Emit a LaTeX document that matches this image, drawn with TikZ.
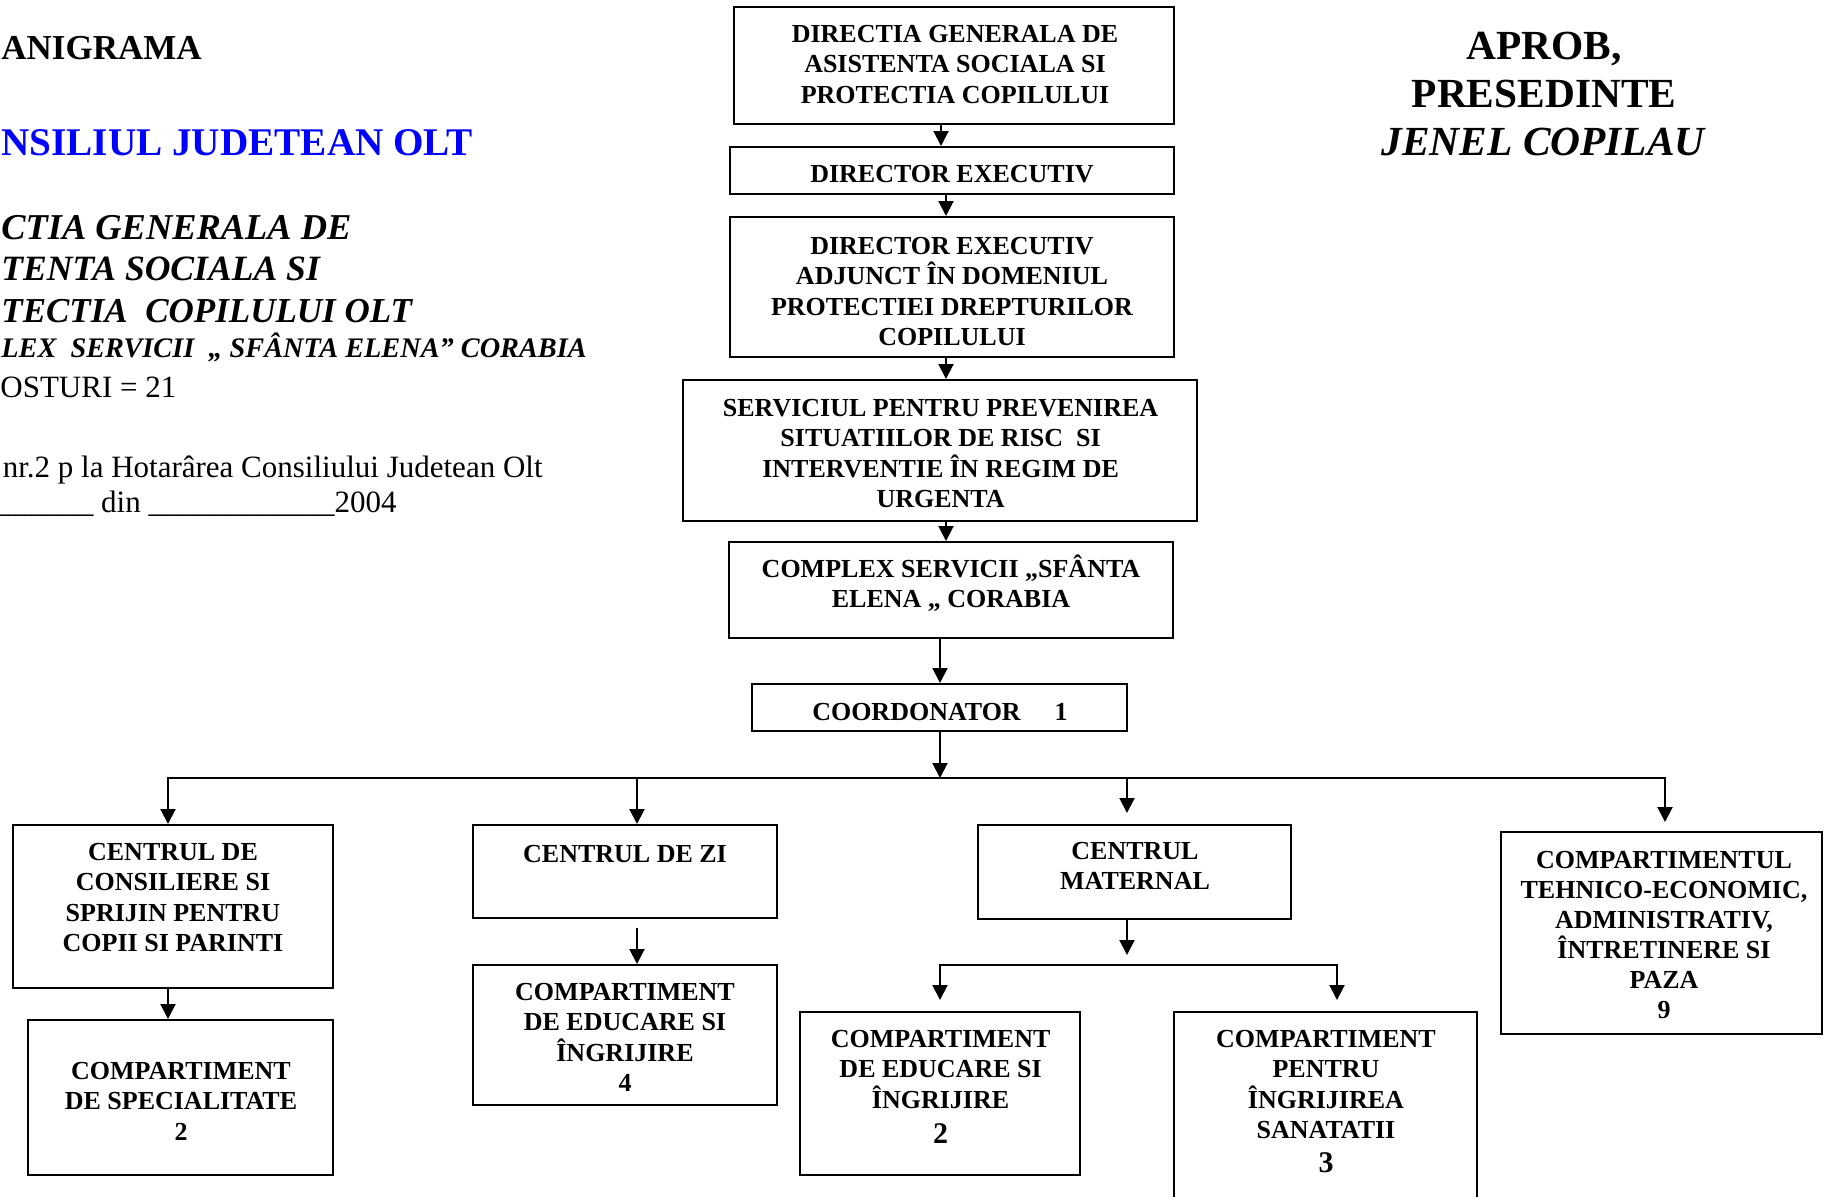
\documentclass[tikz,border=0pt]{standalone}
\usepackage{fontspec}
\setmainfont{Liberation Serif}
\usetikzlibrary{arrows.meta,fit,calc}
\newcommand\fl{\rule{0pt}{20pt}}
\begin{document}
\begin{tikzpicture}[x=0.5pt,y=-0.5pt,
  box/.style={draw,line width=1pt,inner sep=0pt},
  btxt/.style={font=\bfseries\fontsize{13}{15.2}\selectfont,align=center,inner sep=0pt,anchor=north},
  arr/.style={line width=1pt,-{Triangle[length=7.5pt,width=7.5pt]}},
  ln/.style={line width=1pt},
  hd/.style={inner sep=0pt,anchor=base west},
]
\useasboundingbox (0,0) rectangle (1832,1196);
\fill[white] (0,0) rectangle (1832,1196);

% ---- header, left
\node[hd,font=\bfseries\fontsize{17.5}{21}\selectfont] (h1) at (1,59) {ANIGRAMA};
\node[hd,font=\bfseries\fontsize{19.6}{24}\selectfont,text=blue] (h2) at (1,155) {NSILIUL JUDETEAN OLT};
\node[hd,font=\bfseries\itshape\fontsize{18.2}{21}\selectfont] (h3) at (1,239) {CTIA GENERALA DE};
\node[hd,font=\bfseries\itshape\fontsize{17.8}{21}\selectfont] (h4) at (1,280) {TENTA SOCIALA SI};
\node[hd,font=\bfseries\itshape\fontsize{17.5}{21}\selectfont] (h5) at (1,322) {TECTIA\ \ COPILULUI OLT};
\node[hd,font=\bfseries\itshape\fontsize{14.15}{17}\selectfont] (h6) at (1,357) {LEX\ \ SERVICII\ \ „ SFÂNTA ELENA” CORABIA};
\node[hd,font=\fontsize{15.5}{19}\selectfont] (h7) at (0,397) {OSTURI = 21};
\node[hd,anchor=base east,font=\fontsize{15.5}{18}\selectfont] (h8) at (543,477) {nr.2 p la Hotarârea Consiliului Judetean Olt};
\node[hd,font=\fontsize{15.5}{18}\selectfont] (h9) at (0,512) {\_\_\_\_\_\_ din \_\_\_\_\_\_\_\_\_\_\_\_2004};

% ---- header, right
\node[inner sep=0pt,anchor=north,align=center,font=\bfseries\fontsize{20.7}{24}\selectfont] (r) at (1544,19)
  {\fl APROB,\\PRESEDINTE\\\textit{JENEL COPILAU}};

% ---- boxes
\node[box,fit={(734,7) (1174,124)}] (b1) {};
\node[box,fit={(730,147) (1174,194)}] (b2) {};
\node[box,fit={(730,217) (1174,357)}] (b3) {};
\node[box,fit={(683,380) (1197,521)}] (b4) {};
\node[box,fit={(729,542) (1173,638)}] (b5) {};
\node[box,fit={(752,684) (1127,731)}] (b6) {};
\node[box,fit={(13,825) (333,988)}] (cspp) {};
\node[box,fit={(28,1020) (333,1175)}] (cs) {};
\node[box,fit={(473,825) (777,918)}] (cz) {};
\node[box,fit={(473,965) (777,1105)}] (cei4) {};
\node[box,fit={(978,825) (1291,919)}] (cm) {};
\node[box,fit={(800,1012) (1080,1175)}] (cei2) {};
\node[box,fit={(1174,1012) (1477,1206)}] (cpis) {};
\node[box,fit={(1501,832) (1822,1034)}] (cte) {};

% ---- box texts
\node[btxt] (t1) at (955,2) {\fl DIRECTIA GENERALA DE\\ASISTENTA SOCIALA SI\\PROTECTIA COPILULUI};
\node[btxt,anchor=base] (t2) at (952,182) {DIRECTOR EXECUTIV};
\node[btxt] (t3) at (952,214) {\fl DIRECTOR EXECUTIV\\ADJUNCT ÎN DOMENIUL\\PROTECTIEI DREPTURILOR\\COPILULUI};
\node[btxt] (t4) at (940.6,376) {\fl SERVICIUL PENTRU PREVENIREA\\SITUATIILOR DE RISC\ \ SI\\INTERVENTIE ÎN REGIM DE\\URGENTA};
\node[btxt] (t5) at (951,537) {\fl COMPLEX SERVICII „SFÂNTA\\ELENA „ CORABIA};
\node[btxt,anchor=base] (t6) at (940,720) {COORDONATOR\hspace{17pt}1};
\node[btxt] (tcspp) at (173,820) {\fl CENTRUL DE\\CONSILIERE SI\\SPRIJIN PENTRU\\COPII SI PARINTI};
\node[btxt] (tcs) at (181,1039) {\fl COMPARTIMENT\\DE SPECIALITATE\\2};
\node[btxt,anchor=base] (tcz) at (625,862) {CENTRUL DE ZI};
\node[btxt] (tcei4) at (625,960) {\fl COMPARTIMENT\\DE EDUCARE SI\\ÎNGRIJIRE\\4};
\node[btxt] (tcm) at (1135,819) {\fl CENTRUL\\MATERNAL};
\node[btxt] (tcei2) at (940.6,1007) {\fl COMPARTIMENT\\DE EDUCARE SI\\ÎNGRIJIRE\\[2.3pt]{\fontsize{15}{15}\selectfont 2}};
\node[btxt] (tcpis) at (1326,1007) {\fl COMPARTIMENT\\PENTRU\\ÎNGRIJIREA\\SANATATII\\[1.8pt]{\fontsize{15}{15}\selectfont 3}};
\node[btxt,font=\bfseries\fontsize{13}{15}\selectfont] (tcte) at (1664,828.5) {\fl COMPARTIMENTUL\\TEHNICO-ECONOMIC,\\ADMINISTRATIV,\\ÎNTRETINERE SI\\PAZA\\9};

% ---- connectors, main column
\coordinate (xa) at (941,0);
\coordinate (xb) at (946,0);
\coordinate (xc) at (940,0);
\draw[arr] (b1.south -| xa) -- (b2.north -| xa);
\draw[arr] (b2.south -| xb) -- (b3.north -| xb);
\draw[arr] (b3.south -| xb) -- (b4.north -| xb);
\draw[arr] (b4.south -| xb) -- (b5.north -| xb);
\draw[arr] (b5.south -| xc) -- (b6.north -| xc);

% ---- main bus
\coordinate (bus) at (940,778);
\coordinate (busL) at (168,778);
\coordinate (busR) at (1665,778);
\coordinate (bz) at (637,778);
\coordinate (bm) at (1127,778);
\draw[arr] (b6.south -| bus) -- (bus);
\draw[arr] (bus) -- (busL) -- (cspp.north -| busL);
\draw[arr] (bus) -- (busR) -- ($(cte.north -| busR)+(0,-9)$);
\draw[arr] (bz) -- (cz.north -| bz);
\draw[arr] (bm) -- ($(cm.north -| bm)+(0,-11)$);

% ---- sub connectors
\draw[arr] (cspp.south -| busL) -- (cs.north -| busL);
\draw[arr] ($(cz.south -| bz)+(0,9)$) -- (cei4.north -| bz);
\coordinate (sbL) at (940,965);
\coordinate (sbR) at (1337,965);
\coordinate (sbM) at (1127,965);
\draw[arr] (cm.south -| bm) -- ($(sbM)+(0,-10)$);
\draw[arr] (sbM) -- (sbL) -- ($(cei2.north -| sbL)+(0,-11)$);
\draw[arr] (sbM) -- (sbR) -- ($(cpis.north -| sbR)+(0,-11)$);
\end{tikzpicture}
\end{document}
